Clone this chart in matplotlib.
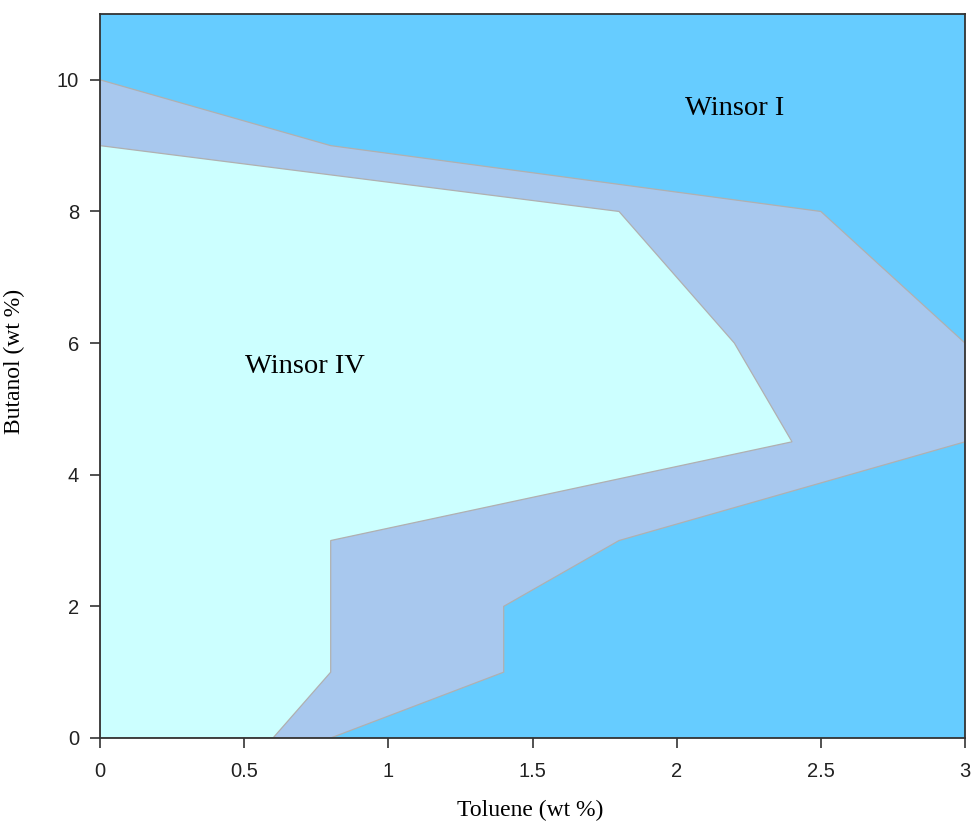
import matplotlib
matplotlib.use('Agg')
import matplotlib.pyplot as plt

# phase boundaries (toluene wt %, butanol wt %)
upper_x = [0, 0.8, 2.5, 3]
upper_y = [10, 9, 8, 6]
lower_x = [3, 1.8, 1.4, 1.4, 0.8]
lower_y = [4.5, 3, 2, 1, 0]
iv_x = [0, 1.8, 2.2, 2.4, 0.8, 0.8, 0.6]
iv_y = [9, 8, 6, 4.5, 3, 1, 0]

labels = ['Winsor I', 'Winsor IV']
label_x = [2.2, 0.71]
label_y = [9.57, 5.64]

outer_c = '#66CCFF'
mid_c = '#A8C8EE'
inner_c = '#CCFFFF'
edge_c = '#B0B0B0'

fig = plt.figure(figsize=(9.73, 8.24), dpi=100)
ax = fig.add_axes([0.1028, 0.1044, 0.8890, 0.8786])
ax.set_facecolor(outer_c)

# three-phase band between the Winsor I and Winsor II regions
band_x = upper_x + lower_x + [0]
band_y = upper_y + lower_y + [0]
ax.fill(band_x, band_y, facecolor=mid_c, edgecolor=edge_c, linewidth=0.9)

# single-phase Winsor IV region
ax.fill(iv_x + [0], iv_y + [0], facecolor=inner_c, edgecolor=edge_c, linewidth=0.9)

for t, x, y in zip(labels, label_x, label_y):
    ax.text(x, y, t, ha='center', va='center', fontsize=20.5,
            family='Liberation Serif')

ax.set_xlim(0, 3)
ax.set_ylim(0, 11)
ax.set_xticks([0, 0.5, 1, 1.5, 2, 2.5, 3])
ax.set_xticklabels(['0', '0.5', '1', '1.5', '2', '2.5', '3'])
ax.set_yticks([0, 2, 4, 6, 8, 10])
for lab in ax.get_xticklabels() + ax.get_yticklabels():
    lab.set_family('Liberation Sans')
    lab.set_fontsize(14.5)
ax.tick_params(direction='out', length=7, width=1.2, colors='#333333',
               labelcolor='#222222', pad=8)
ax.tick_params(axis='x', pad=10)
for s in ax.spines.values():
    s.set_linewidth(1.3)
    s.set_color('#333333')

ax.set_xlabel('Toluene (wt %)', fontsize=17, family='Liberation Serif')
ax.set_ylabel('Butanol (wt %)', fontsize=17, family='Liberation Serif')
ax.xaxis.set_label_coords(0.497, -0.085)
ax.yaxis.set_label_coords(-0.087, 0.52)

fig.savefig('out.png', dpi=100)
